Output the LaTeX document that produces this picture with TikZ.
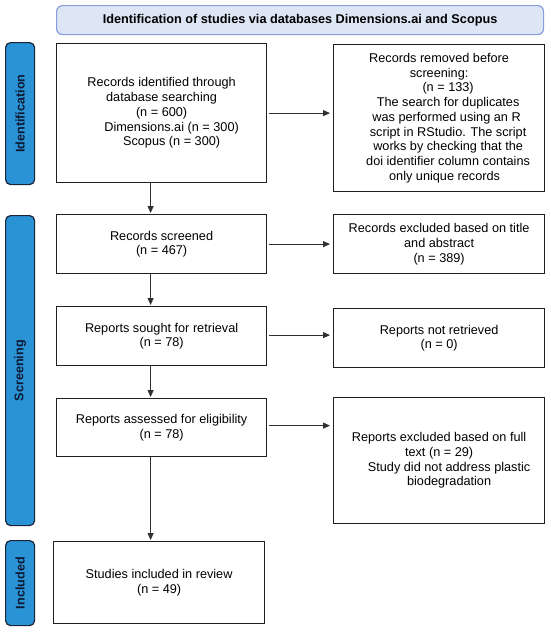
\documentclass[tikz,border=0pt]{standalone}
\usepackage{fontspec}
\setmainfont{Liberation Sans}
\usetikzlibrary{arrows.meta,calc}
\definecolor{sidefill}{HTML}{2A93D5}
\definecolor{sidedraw}{HTML}{1B2538}
\definecolor{sidetext}{HTML}{0E1A33}
\definecolor{titlefill}{HTML}{DCE6F5}
\definecolor{titledraw}{HTML}{8A9CDD}
\definecolor{boxline}{HTML}{1E1E1E}
\definecolor{arrline}{HTML}{303030}
\begin{document}
\begin{tikzpicture}[x=1pt,y=-1pt,
  box/.style={draw=boxline, line width=1.2pt, fill=white, align=center,
    font=\fontsize{12.7}{14.7}\selectfont, inner sep=0pt, anchor=north west},
  side/.style={draw=sidedraw, fill=sidefill, line width=1.2pt, rounded corners=5pt,
    anchor=north west, minimum width=29pt, inner sep=0pt},
  sidelabel/.style={rotate=90, text=sidetext, font=\fontsize{12.6}{14}\selectfont\bfseries},
  titlebox/.style={draw=titledraw, fill=titlefill, line width=1.2pt, rounded corners=6pt,
    anchor=north west, font=\fontsize{12.7}{14}\selectfont\bfseries, inner sep=0pt},
  arr/.style={draw=arrline, line width=0.9pt, -{Triangle[length=7pt,width=6pt]}}]
\useasboundingbox[fill=white] (0,0) rectangle (550,632);

% title
\node[titlebox, minimum width=487pt, minimum height=29pt] (title) at (56,5)
  {Identification of studies via databases Dimensions.ai and Scopus};

% side bars
\node[side, minimum height=142pt] (sideI) at (5,42) {};
\node[sidelabel] (sideIl) at (sideI.center) {Identification};
\node[side, minimum height=310pt] (sideS) at (5,215) {};
\node[sidelabel] (sideSl) at (sideS.center) {Screening};
\node[side, minimum height=85pt] (sideN) at (5,540) {};
\node[sidelabel] (sideNl) at (sideN.center) {Included};

% boxes
\node[box, minimum width=210pt, minimum height=139pt] (b1) at (56,43)
  {Records identified through\\ database searching\\ (n = 600)\\
   \hspace*{20pt}Dimensions.ai (n = 300)\\ \hspace*{20pt}Scopus (n = 300)};
\node[box, minimum width=211pt, minimum height=147pt] (b2) at (333,44)
  {Records removed before\\ screening:\\ \hspace*{18pt}(n = 133)\\
   \hspace*{18pt}The search for duplicates\\ \hspace*{15pt}was performed using an R\\
   \hspace*{18pt}script in RStudio. The script\\ \hspace*{18pt}works by checking that the\\
   \hspace*{18pt}doi identifier column contains\\ \hspace*{11pt}only unique records};
\node[box, minimum width=210pt, minimum height=59pt] (b3) at (56,214)
  {Records screened\\ (n = 467)};
\node[box, minimum width=211pt, minimum height=59pt] (b4) at (333,214)
  {Records excluded based on title\\ and abstract\\ (n = 389)};
\node[box, minimum width=210pt, minimum height=59pt] (b5) at (56,306)
  {Reports sought for retrieval\\ (n = 78)};
\node[box, minimum width=211pt, minimum height=59pt] (b6) at (333,308)
  {Reports not retrieved\\ (n = 0)};
\node[box, minimum width=210pt, minimum height=58pt] (b7) at (56,398)
  {Reports assessed for eligibility\\ (n = 78)};
\node[box, minimum width=211pt, minimum height=126pt] (b8) at (333,397)
  {Reports excluded based on full\\ text (n = 29)\\
   \hspace*{20pt}Study did not address plastic\\ \hspace*{20pt}biodegradation};
\node[box, minimum width=211pt, minimum height=82pt] (b9) at (53,541)
  {Studies included in review\\ (n = 49)};

% horizontal arrows
\draw[arr, shorten <=2pt, shorten >=3pt] (b1.east) -- (b1.east -| b2.west);
\draw[arr, shorten <=2pt, shorten >=3pt] (b3.east) -- (b3.east -| b4.west);
\draw[arr, shorten <=2pt, shorten >=3pt] ([yshift=1pt]b5.east) -- ([yshift=1pt]b5.east -| b6.west);
\draw[arr, shorten <=2pt, shorten >=3pt] ([yshift=2pt]b7.east) -- ([yshift=2pt]b7.east -| b8.west);

% vertical arrows
\draw[arr, shorten >=1pt] ([xshift=-11pt]b1.south) -- ([xshift=-11pt]b1.south |- b3.north);
\draw[arr, shorten >=1pt] ([xshift=-11pt]b3.south) -- ([xshift=-11pt]b3.south |- b5.north);
\draw[arr, shorten >=1pt] ([xshift=-11pt]b5.south) -- ([xshift=-11pt]b5.south |- b7.north);
\draw[arr, shorten >=1pt] ([xshift=-11pt]b7.south) -- ([xshift=-11pt]b7.south |- b9.north);
\end{tikzpicture}
\end{document}
